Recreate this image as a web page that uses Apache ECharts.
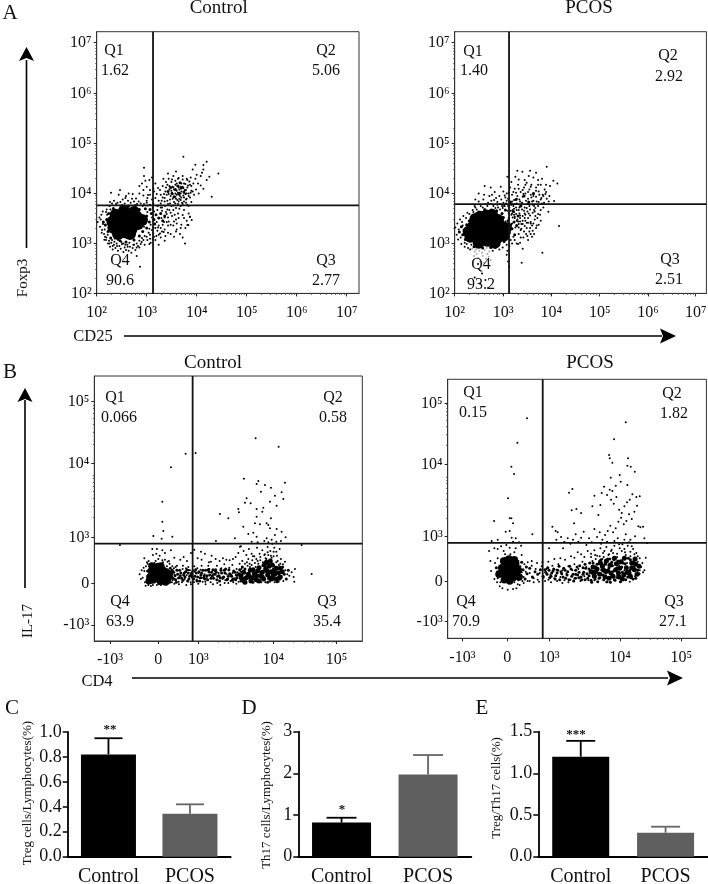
<!DOCTYPE html>
<html><head><meta charset="utf-8">
<style>html,body{margin:0;padding:0;background:#fff}#c{width:708px;height:884px}</style>
<script src="https://cdn.jsdelivr.net/npm/echarts@6/dist/echarts.min.js"></script>
</head><body><div id="c"></div>
<script>
// ---- flow panels: event positions in display channels (x,y flat pairs) ----
const aCtlCore=[68,215,85,222,102,218,72,200,90,198];
const aCtlLump=[47,215,50,197,57,236,120,230,124,208,64,178,100,178,112,244,82,248,136,220];
const aCtlMid=[150,232,158,214,164,240,172,222,150,196,138,186,178,236,186,226,30,222,26,205,34,186,42,166,70,158,88,154,112,160,128,172,36,240,50,255,128,252,146,254,160,252,174,208,192,240,198,218,204,232,76,264,96,262,116,264,20,214,226,300,236,312,246,298,254,316,232,290,244,322,222,318,262,304,214,306,250,332];
const aCtlDots=[3,214,8,228,10,200,14,236,16,190,18,246,22,178,25,170,30,252,28,160,34,150,38,262,40,140,44,152,48,132,52,146,56,136,60,150,64,128,68,142,72,134,76,148,80,124,84,138,88,130,92,146,96,128,100,140,104,122,108,136,112,146,116,130,120,150,124,142,128,158,132,148,136,166,140,160,144,172,150,170,156,182,160,176,166,190,170,180,176,196,182,188,186,204,192,196,198,206,204,192,210,214,214,228,208,244,218,250,222,206,226,232,232,216,238,222,240,192,244,240,250,178,254,206,258,168,262,226,266,196,270,218,276,240,280,230,232,170,204,158,214,182,192,168,186,146,176,160,162,152,275,205,258,235,248,254,230,250,196,258,184,264,170,268,150,272,132,270,112,276,94,278,78,282,62,272,46,270,66,296,88,292,108,298,128,300,140,294,152,286,166,282,150,320,136,330,146,338,160,310,172,306,180,298,176,330,158,340,186,278,192,270,198,288,204,276,210,296,214,268,220,282,224,262,228,298,232,274,236,290,240,308,244,268,248,284,252,300,256,272,260,294,264,310,268,282,272,266,276,300,280,288,284,274,190,310,198,322,206,306,212,326,218,312,224,334,230,318,236,338,242,322,248,312,254,330,260,316,266,328,272,318,278,336,284,322,288,306,216,344,230,352,246,346,258,352,270,344,282,348,200,344,296,344,304,330,292,296,298,312,306,300,312,324,320,314,300,356,312,352,320,372,330,340,338,350,345,290,365,360,330,395,320,385,260,410,142,377,43,302,265,150,130,80,120,112,280,230,285,220,272,205,262,250,252,262,238,256,118,285,96,300,70,310,154,295,176,286,128,322,142,352,166,348,214,360,238,366,288,372,296,386,316,362,242,280,250,292,236,300,228,320,248,302,262,288,270,300,258,320,240,330,226,302,216,298,208,318];
const aCtlDotsB=[24,192,19,208,31,236,12,222,28,244,41,252,23,161,37,158,46,160,54,165,33,176,15,182,58,268,71,274,84,270,102,272,121,268,138,262,153,264,168,256,182,250,196,248,205,262,144,146,152,160,168,164,179,172,190,180,201,184,158,148,135,154,110,146,98,152,86,146,74,154,61,142,53,155,64,160,80,150,93,140,120,138,128,138,48,142,38,150,29,168,152,244,166,228,146,212,162,206,180,214,194,226,210,238,222,242,234,236,246,226,240,210,214,204,202,214,184,198,170,198,158,194,142,200,148,224,172,246,182,262,192,258,160,266,142,268,126,276,106,284,86,286,52,278,40,274,195,278,202,298,212,278,222,292,230,264,238,284,246,276,254,288,262,302,270,284,276,292,284,308,224,308,232,312,240,296,246,318,254,306,262,330,268,310,274,324,282,302,208,334,218,322,226,342,236,326,244,344,252,320,258,342,266,298,272,340,280,326,290,330,204,286,192,296,184,316,170,314,160,296,150,278,140,310,212,252,220,270,228,284,236,270,244,302,252,280,258,268,268,272,276,262,262,276,204,228,216,216,230,204,252,196,238,186,222,178,206,172,196,186,186,176,172,170,160,164];
const aPcosCore=[66,190,85,205,105,207,125,192,80,175,100,173,118,178];
const aPcosLump=[42,185,47,170,138,190,148,174,62,223,130,220,95,234,72,152,120,152,76,230,112,236,154,196];
const aPcosMid=[28,190,24,176,32,162,36,206,44,218,58,140,84,136,108,138,132,146,148,156,164,182,168,206,160,218,146,228,172,194,178,214,110,250,90,252,72,244,126,248,142,240,180,176,186,204,20,200,14,184,152,250,170,268,184,282,198,262,208,292,222,274,236,300,176,246,190,232];
const aPcosFaint=[52,134,60,126,66,118,74,128,82,122,90,130,98,118,104,126,58,112,70,106,84,112,94,104,102,110,108,100,76,96,88,92,64,132,96,136];
const aPcosDots=[2,198,6,176,8,210,10,162,16,222,20,148,26,232,30,140,38,242,46,132,54,250,62,258,78,262,92,268,100,272,116,262,130,258,144,256,158,248,170,236,180,226,190,216,196,234,204,208,210,226,216,196,222,240,228,210,234,188,240,222,192,178,198,190,206,168,214,178,220,160,226,196,232,170,238,250,246,204,180,160,172,150,164,142,158,128,190,148,196,152,204,134,70,88,82,60,60,48,92,40,76,30,100,16,156,116,160,96,163,80,201,92,263,122,281,245,298,277,313,202,308,330,276,380,188,368,203,365,158,350,170,334,182,350,192,342,222,352,236,348,250,340,262,344,274,326,286,322,296,338,108,318,90,322,120,304,138,320,146,306,156,300,166,318,134,292,118,280,104,292,88,296,62,282,72,300,146,272,160,284,172,296,180,314,190,326,198,304,208,318,216,332,224,312,230,326,238,300,244,318,252,306,258,326,264,296,270,312,178,280,188,292,196,276,204,290,212,300,220,284,228,296,236,278,244,290,252,274,260,286,268,272,276,284,284,292,170,266,178,254,186,270,194,258,202,272,210,258,218,268,226,252,234,266,242,256,250,262,258,250,266,258,178,244,186,250,194,240,202,252,210,240,218,246,226,234,234,242,242,232,250,238,180,230,188,222,196,216,204,232,212,218,220,226,228,214,236,210,244,196,252,206,258,218,172,240,164,258,154,270,140,282,128,266,166,276,150,294,210,340,226,368,244,362];
const aPcosDotsB=[22,214,34,226,18,168,30,152,40,136,50,146,24,204,12,192,36,148,44,238,56,244,66,252,84,258,98,262,108,268,122,256,136,252,150,262,162,240,174,228,184,238,192,198,200,208,208,186,216,212,224,186,232,204,238,178,172,210,182,198,176,170,168,160,156,146,144,138,134,132,122,136,114,128,60,262,72,276,86,282,110,278,128,274,142,262,156,278,168,272,180,268,186,284,194,282,200,268,206,298,214,278,222,268,230,288,238,262,246,276,254,296,262,270,272,298,152,288,162,302,172,276,176,304,184,302,192,314,204,310,212,326,220,304,228,320,236,292,244,308,250,326,258,282,266,292,274,304,282,276,148,262,136,268,124,286,112,296,160,262,168,248,176,262,184,258,192,250,200,262,208,248,216,256,224,262,232,276,240,246,248,226,256,236,196,226,204,218,212,236,220,212,174,250,162,226,152,216,178,236,186,218,192,208,200,194,210,202,218,172,228,178,186,150,198,168];
const bCtlCore=[176,196,186,186,184,204,196,194,194,210,206,186,206,202,214,194,170,210,176,182,198,178,216,208,180,218,204,216,166,192,222,188,190,224,164,180,226,202,172,226,214,176,200,226,180,190,190,200,200,188,210,210,178,206,170,188];
const bCtlLump=[440,196,448,206,456,190,462,200,468,212,474,190,480,202,486,184,490,210,498,196,504,206,508,186,514,216,520,198,526,188,530,208,536,196,540,214,546,186,552,204,558,192,564,208,444,186,470,180,494,220,510,228,524,224,534,228,546,218,558,218,516,236,528,240,452,176,466,192,476,214,494,180,518,210,542,202,554,188,486,196,504,192,532,186];
const bCtlMid=[232,192,238,206,244,184,250,200,256,212,262,188,268,198,274,208,280,180,286,194,292,204,298,186,304,214,310,192,316,180,322,204,328,190,334,212,340,184,346,198,352,206,358,188,364,214,370,194,376,180,382,204,388,192,394,216,400,186,406,202,412,194,418,210,424,184,430,198,436,214,444,222,452,216,162,196,160,210,166,180,170,224,228,218,226,176,570,200,576,186,582,212,448,178,476,176,520,176,548,178,565,222];
const bCtlBand=[230,205,236,188,242,196,248,212,254,190,260,204,266,182,272,192,278,214,284,186,290,198,296,210,302,194,308,180,314,208,320,198,326,212,332,186,338,196,344,208,350,188,356,214,362,200,368,184,374,196,380,212,386,190,392,204,398,184,404,214,410,198,416,186,422,206,428,190,434,202,440,180,234,212,246,176,258,196,270,204,282,204,294,192,306,204,318,190,330,196,342,214,354,196,366,206,378,190,390,212,402,194,414,182,426,198,438,188];
const bCtlDots=[145,190,150,210,152,176,155,224,158,236,163,240,170,165,176,168,184,240,192,246,200,168,204,242,212,244,216,170,220,238,176,258,168,228,186,262,196,256,204,272,212,264,224,240,234,224,240,172,248,226,254,170,266,226,276,168,282,222,290,170,300,224,312,172,322,226,334,170,342,226,356,170,368,226,378,168,390,230,402,174,414,228,426,172,436,232,458,236,466,232,474,242,482,234,490,240,498,252,506,236,514,248,522,258,530,240,538,254,546,236,554,228,560,246,566,230,572,238,528,270,520,282,512,260,504,272,496,262,488,280,480,254,472,262,464,276,456,258,448,270,440,284,432,264,424,252,416,246,406,242,396,244,386,248,376,240,364,246,352,256,344,236,332,262,322,244,310,248,300,274,290,264,268,252,258,244,240,250,546,268,540,280,534,292,556,276,592,206,598,192,602,216,600,178,484,608,553,583,274,562,304,564,230,521,449,487,492,480,487,471,512,468,530,460,572,475,562,446,542,436,500,448,457,428,452,415,469,413,567,426,204,418,527,418,547,406,432,396,434,386,377,381,402,368,487,396,507,400,487,373,504,388,204,358,530,368,517,353,482,353,497,350,447,343,207,330,522,348,527,338,547,336,477,325,462,321,562,328,177,315,234,313,202,307,422,308,487,313,542,318,574,311,517,308,365,300,437,283,652,201,77,288,622,288,510,300,522,296,532,304,546,298,560,300,490,296,472,298,150,248,230,272,278,240,320,268,350,238,174,276,188,276];
const bCtlDotsB=[235,182,241,199,247,214,253,178,259,203,265,216,271,186,277,197,283,213,289,176,295,199,301,208,307,184,313,204,319,214,325,178,331,200,337,190,343,216,349,176,355,196,361,210,367,182,373,204,379,216,385,186,391,174,397,200,403,212,409,180,415,204,421,188,427,216,433,178,439,208,233,176,239,218,251,188,263,176,275,218,287,212,299,176,309,218,321,190,333,178,345,216,357,200,369,174,381,218,393,182,405,220,417,176,429,206,441,216,455,178,467,222,477,216,489,178,501,176,513,176,527,178,541,176,553,178,567,180,573,212,579,200,585,196,452,232,460,226,472,228,484,222,492,232,504,226,516,246,524,232,532,250,540,226,550,240,558,232,510,258,520,266,530,256,538,268,548,256,498,242,486,246,476,254,462,246,444,240,136,200,140,186,142,212,148,220,154,166,162,168,188,168,194,232,180,234,206,236,160,232,218,224,226,232,232,206,240,186,244,222,228,190,222,180,218,214];
const bPcosCore=[166,196,176,186,174,206,186,194,184,212,196,182,196,204,206,194,178,222,194,224,170,176,186,172,206,212,162,212,214,184,168,232,184,238,200,236,154,192,212,204,180,200,190,188,176,214,204,224,192,216,170,196];
const bPcosLump=[430,200,440,186,448,208,456,192,464,216,472,184,480,202,488,220,496,186,504,206,512,196,520,230,528,190,536,212,544,196,552,226,560,206,568,192,574,216,436,214,458,226,476,232,500,240,516,210,530,240,548,186,562,238,442,200,468,204,490,196,506,224,524,178,538,198,552,212,564,222,484,180,514,184];
const bPcosMid=[150,200,220,188,226,206,232,178,238,194,246,210,254,184,262,200,270,192,278,206,286,186,294,198,300,212,306,182,312,196,318,208,324,188,330,204,336,176,342,194,348,210,354,180,360,200,366,216,372,186,378,172,384,204,390,190,396,218,402,176,408,198,414,210,420,180,426,226,432,168,438,200,444,214,450,170,456,232,462,206,468,176,474,222,480,238,488,168,494,218,502,174,510,232,518,170,526,226,534,176,542,240,550,182,558,230,564,180,574,194,146,212,222,228,236,214];
const bPcosBand=[352,204,358,190,364,176,370,208,376,192,382,180,388,214,394,198,400,184,406,212,412,176,418,194,424,208,430,174,436,226,442,178,448,222,454,180,460,236,466,190,472,226,478,170,484,212,492,228,500,176,508,212,516,226,524,198,532,224,540,184,548,236,556,178,340,200,346,184,334,216,328,196,322,178,316,202,310,186,304,204,298,192,292,206,412,222,424,188,436,192,450,196,462,222,474,196,486,238,498,202,510,188,522,214,534,196,546,204,558,214,570,204,406,192,394,182,384,192];
const bPcosDots=[130,202,140,178,142,226,148,168,150,240,156,156,164,150,172,252,180,146,188,252,196,148,200,258,206,150,212,232,216,160,222,250,228,166,240,228,246,172,252,232,258,168,268,226,274,170,284,228,292,172,302,230,310,168,320,238,328,172,338,240,344,166,352,236,362,168,370,246,380,242,390,258,400,252,410,244,420,262,430,254,440,264,448,248,458,270,466,256,476,274,484,252,492,266,500,278,508,254,516,270,524,282,532,258,540,278,548,260,556,268,566,256,576,240,584,226,594,242,590,204,124,262,140,270,128,232,150,268,160,276,168,262,176,280,186,272,196,290,204,270,150,296,238,660,209,587,534,648,499,597,191,515,199,493,181,420,484,550,486,540,494,527,541,540,539,518,549,515,561,500,489,482,516,490,519,470,539,460,469,455,374,448,364,437,139,352,186,360,191,360,196,345,314,335,379,345,372,384,386,388,400,376,434,396,452,370,458,400,440,428,462,436,478,430,486,446,494,442,504,458,490,416,498,404,506,424,514,386,522,376,530,396,538,408,546,416,554,432,566,424,576,426,568,398,560,380,552,358,544,372,536,352,528,342,520,362,512,350,504,330,496,318,488,338,480,322,472,310,464,296,456,318,448,304,440,328,432,288,424,300,416,280,408,320,400,302,392,290,384,312,376,296,368,284,360,300,350,290,340,304,330,318,324,322,586,335,578,333,572,336,590,300,598,286,548,296,562,306,534,312,510,300,326,296,304,270,346,270,186,322,174,320,192,302,204,300,254,312,214,288,132,292,220,278];
const bPcosDotsB=[228,184,234,200,240,172,246,196,252,218,258,180,264,208,270,176,276,196,282,216,288,182,296,208,302,176,308,190,314,218,320,180,326,206,332,222,338,184,344,204,350,174,356,194,362,216,368,176,374,204,380,222,386,180,392,208,398,172,404,230,410,186,416,214,422,174,428,204,434,232,440,174,446,200,452,224,458,182,464,238,470,200,476,168,482,218,490,186,498,234,506,182,514,218,522,182,530,204,538,226,546,170,554,214,562,186,570,230,576,204,430,244,444,238,456,246,468,244,482,250,496,256,508,244,522,262,534,250,548,246,560,252,570,246,580,214,586,198,442,250,470,262,490,262,514,282,530,268,552,276,500,292,530,296,544,288,460,284,478,290,150,180,158,168,162,238,172,242,200,168,212,174,218,216,222,198,230,222,210,162,224,172];
// ---- gates and axis ticks ----
const panelAGates=[[169,264],[163,268]];
const panelBGates=[[295,292],[285,286]];
const xTicksAControl=[0,150,300,450,600,750];
const xTicksAPcos=[0,145,290,435,580,723];
const yTicksA=[0,150,300,450,600,752];
const tickLabelsA=['10²','10³','10⁴','10⁵','10⁶','10⁷'];
const xTicksBControl=[47,192,312,537,727];
const yTicksBControl=[48,173,311,532,718];
const xTicksBPcos=[44,179,304,517,701];
const yTicksBPcos=[50,170,305,522,705];
const xTickLabelsB=['-10³','0','10³','10⁴','10⁵'];
const yTickLabelsB=['-10³','0','10³','10⁴','10⁵'];
const minorDecade=[45,72,90,105,117,127,135,143];
// ---- quadrant percentages ----
const qAControl=['1.62','5.06','2.77','90.6'];
const qAPcos=['1.40','2.92','2.51','93.2'];
const qBControl=['0.066','0.58','35.4','63.9'];
const qBPcos=['0.15','1.82','27.1','70.9'];
// ---- bar panels ----
const groups=['Control','PCOS'];
const tregMean=[0.82,0.345], tregUpper=[0.95,0.42];
const th17Mean=[0.82,1.97], th17Upper=[0.935,2.44];
const ratioMean=[1.2,0.288], ratioUpper=[1.39,0.36];

const F='"Liberation Serif","Times New Roman",serif', K='#111';
const pairs=a=>{const o=[];for(let i=0;i<a.length;i+=2)o.push([a[i],a[i+1]]);return o;};
const txt=(t,x,y,s,o={})=>({type:'text',x,y,rotation:o.rot||0,z:20,style:{text:t,font:(o.w||'normal')+' '+s+'px '+F,fill:K,textAlign:'center',textVerticalAlign:'middle'}});
const vArrow=(x,y0,y1,tip,base)=>[
 {type:'line',z:20,shape:{x1:x,y1:y0,x2:x,y2:y1},style:{stroke:'#000',lineWidth:1.6}},
 {type:'polygon',z:20,shape:{points:[[x,tip],[x+7.5,base],[x,base-3],[x-7.5,base]]},style:{fill:'#000'}}];
const hArrow=(x0,x1,y,tip,base)=>[
 {type:'line',z:20,shape:{x1:x0,y1:y,x2:x1,y2:y},style:{stroke:'#000',lineWidth:1.6}},
 {type:'polygon',z:20,shape:{points:[[tip,y],[base,y-7.5],[base+3,y],[base,y+7.5]]},style:{fill:'#000'}}];

const grid=[],xAxis=[],yAxis=[],series=[];
function minors(ticks,max,step){const m=[];ticks.forEach(t=>minorDecade.forEach(d=>{const v=t+d*step;if(v<max)m.push(Math.round(v));}));return m;}
function flow(p){
 const gi=grid.length;
 grid.push({left:p.box[0],top:p.box[1],width:p.box[2],height:p.box[3],outerBoundsMode:'none',show:true,borderColor:'#333',borderWidth:1,backgroundColor:'transparent'});
 const main=(ticks,labs,max,pos,lm)=>({gridIndex:gi,type:'value',position:pos,min:0,max,splitLine:{show:false},
  axisLine:{show:true,onZero:false,lineStyle:{color:'#333',width:1}},
  axisTick:{show:true,length:3,customValues:ticks,lineStyle:{color:'#222',width:1}},
  axisLabel:{show:true,margin:lm,customValues:ticks,color:K,fontFamily:F,fontSize:16,formatter:v=>labs[ticks.indexOf(v)]}});
 const minor=(vals,max,pos)=>({gridIndex:gi,type:'value',position:pos,min:0,max,splitLine:{show:false},axisLine:{show:false,onZero:false},
  axisTick:{show:true,length:1.5,customValues:vals,lineStyle:{color:'#444',width:0.8}},axisLabel:{show:false}});
 const xi=xAxis.length, yi=yAxis.length;
 xAxis.push(main(p.xt,p.xl,p.xmax,'bottom',11),minor(p.xm,p.xmax,'bottom'));
 yAxis.push(main(p.yt,p.yl,p.ymax,'left',5),minor(p.ym,p.ymax,'left'));
 const sc=(data,size,color)=>({type:'scatter',xAxisIndex:xi,yAxisIndex:yi,data:pairs(data),symbolSize:size,silent:true,itemStyle:{color:color||'#000',opacity:1},large:false});
 if(p.faint)series.push(sc(p.faint,2,'#aaa'));
 series.push(sc(p.dots,2),sc(p.mid,p.midSize),sc(p.lump,p.lumpSize),sc(p.core,p.coreSize));
 const line=(d)=>({type:'line',xAxisIndex:xi,yAxisIndex:yi,data:d,symbol:'none',silent:true,z:5,lineStyle:{color:'#111',width:1.8}});
 series.push(line([[p.g[0],0],[p.g[0],p.ymax]]),line([[0,p.g[1]],[p.xmax,p.g[1]]]));
}
flow({box:[96.7,31.7,262.3,261.7],xt:xTicksAControl,xl:tickLabelsA,xmax:787,yt:yTicksA,yl:tickLabelsA,ymax:785,xm:minors(xTicksAControl,787,1),ym:minors(yTicksA,785,1),g:panelAGates[0],core:aCtlCore,lump:aCtlLump,mid:aCtlMid,dots:aCtlDots.concat(aCtlDotsB),coreSize:22,lumpSize:12,midSize:3});
flow({box:[454.7,31.7,251.7,261.7],xt:xTicksAPcos,xl:tickLabelsA,xmax:755,yt:yTicksA,yl:tickLabelsA,ymax:785,xm:minors(xTicksAPcos,755,1),ym:minors(yTicksA,785,1),g:panelAGates[1],core:aPcosCore,lump:aPcosLump,mid:aPcosMid,dots:aPcosDots.concat(aPcosDotsB),faint:aPcosFaint,coreSize:22,lumpSize:12,midSize:3});
flow({box:[94.3,376,268,265],xt:xTicksBControl,xl:xTickLabelsB,xmax:804,yt:yTicksBControl,yl:yTickLabelsB,ymax:795,xm:minors([312,537],804,1.3),ym:minors([311,532],795,1.3),g:panelBGates[0],core:bCtlCore,lump:bCtlLump,mid:bCtlMid.concat(bCtlBand),dots:bCtlDots.concat(bCtlDotsB),coreSize:7,lumpSize:5,midSize:3});
flow({box:[447.7,379.3,258.7,259],xt:xTicksBPcos,xl:xTickLabelsB,xmax:776,yt:yTicksBPcos,yl:yTickLabelsB,ymax:777,xm:minors([304,517],776,1.25),ym:minors([305,522],777,1.25),g:panelBGates[1],core:bPcosCore,lump:bPcosLump,mid:bPcosMid.concat(bPcosBand),dots:bPcosDots.concat(bPcosDotsB),coreSize:7.5,lumpSize:5,midSize:3});

function bars(b){
 const gi=grid.length,xi=xAxis.length,yi=yAxis.length;
 grid.push({left:b.box[0],top:b.box[1],width:b.box[2],height:b.box[3],outerBoundsMode:'none'});
 xAxis.push({gridIndex:gi,type:'category',data:groups,axisLine:{lineStyle:{color:'#000',width:1.8}},axisTick:{alignWithLabel:true,length:3,lineStyle:{color:'#000',width:1.5}},axisLabel:{color:K,fontFamily:F,fontSize:20,margin:10}});
 yAxis.push({gridIndex:gi,type:'value',min:0,max:b.max,interval:b.step,splitLine:{show:false},axisLine:{show:true,lineStyle:{color:'#000',width:1.8}},axisTick:{show:true,length:5,lineStyle:{color:'#000',width:1.5}},axisLabel:{color:K,fontFamily:F,fontSize:b.fs,margin:6,formatter:v=>b.dec?v.toFixed(1):String(v)}});
 series.push({type:'bar',xAxisIndex:xi,yAxisIndex:yi,barWidth:b.w,silent:true,data:b.mean.map((v,i)=>({value:v,itemStyle:{color:i?'#5f5f5f':'#000'}}))});
 series.push({type:'custom',xAxisIndex:xi,yAxisIndex:yi,silent:true,z:1,data:b.mean.map((m,i)=>[i,m,b.upper[i]]),
  renderItem:(params,api)=>{const a=api.coord([api.value(0),api.value(1)]),c=api.coord([api.value(0),api.value(2)]),col=api.value(0)?'#666':'#000',st={stroke:col,lineWidth:1.8};
   return {type:'group',children:[{type:'line',shape:{x1:a[0],y1:a[1],x2:c[0],y2:c[1]},style:st},{type:'line',shape:{x1:c[0]-b.cap,y1:c[1],x2:c[0]+b.cap,y2:c[1]},style:st}]};}});
}
bars({box:[67.7,732,163,124.7],max:1,step:0.2,dec:true,fs:18,w:55,cap:14,mean:tregMean,upper:tregUpper});
bars({box:[298.3,731.7,173,125],max:3,step:1,dec:false,fs:18,w:59,cap:15,mean:th17Mean,upper:th17Upper});
bars({box:[538.3,731.7,169.7,125],max:1.5,step:0.5,dec:true,fs:18,w:57,cap:14.5,mean:ratioMean,upper:ratioUpper});

const R=Math.PI/2;
const graphic=[
 txt('A',10,13,21),txt('B',10,372,21),txt('C',12,708,21),txt('D',249,708,21),txt('E',482,708,21),
 txt('Control',218.7,8,19),txt('PCOS',589,8,19),txt('Control',213,363,19),txt('PCOS',590,363,19),
 txt('Foxp3',23,278,15,{rot:R}),txt('CD25',93,337,16.5),txt('IL-17',28,621,15,{rot:R}),txt('CD4',97,682,16.5),
 txt('Treg cells/Lymphocytes(%)',28,793,13,{rot:R}),txt('Th17 cells/Lymphocytes(%)',267,795,13,{rot:R}),txt('Treg/Th17 cells(%)',497,788,13,{rot:R}),
 txt('**',110,730,13,{w:'bold'}),txt('*',342,810,13,{w:'bold'}),txt('***',576,735,13,{w:'bold'}),
 ...vArrow(26.5,248,60,47,61),...hArrow(124,662,336,676,660),...vArrow(25,588,400,388,402),...hArrow(132,668,678,683,667)
];
function qs(vals,pos){['Q1','Q2','Q3','Q4'].forEach((q,i)=>{const p=pos[i];graphic.push(txt(q,p[0],p[1],16),txt(vals[i],p[2],p[3],16));});}
qs(qAControl,[[114,51,115,71],[326,51,326,71],[326,261,326,281],[120,261,120,281]]);
qs(qAPcos,[[473,52,474,71],[668,56,669,77],[670,260,669,280],[481,265,481,285]]);
qs(qBControl,[[115,398,119,418],[333,398,333,418],[327,602,327,622],[120,602,120,622]]);
qs(qBPcos,[[473,393,473,413],[672,394,674,414],[674,602,673,622],[466,602,466,622]]);

const chart=echarts.init(document.getElementById('c'),null,{renderer:'canvas'});
chart.setOption({animation:false,backgroundColor:'#fff',grid,xAxis,yAxis,series,graphic});
</script></body></html>
